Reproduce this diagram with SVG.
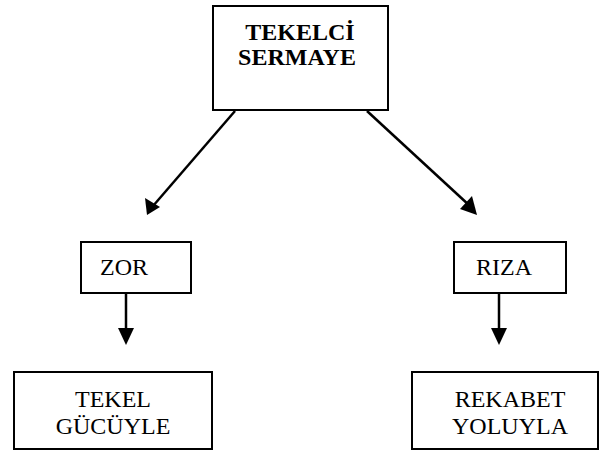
<svg xmlns="http://www.w3.org/2000/svg" width="600" height="453" viewBox="0 0 600 453">
<defs>
<marker id="ah" viewBox="0 0 10 10" refX="10" refY="5" markerWidth="8" markerHeight="8" markerUnits="userSpaceOnUse" orient="auto">
<path d="M0,0 L10,5 L0,10 Z" fill="#000"/>
</marker>
<style>
.box{fill:#fff;stroke:#000;stroke-width:2}
.t{font-family:"Liberation Serif","Times New Roman",serif;font-size:24px;fill:#000}
.b{font-weight:bold}
.c{stroke:#000;stroke-width:2.5;fill:none}
.h{fill:#000}
</style>
</defs>
<rect width="600" height="453" fill="#fff"/>
<g id="connectors">
<line class="c" x1="235" y1="111" x2="153" y2="206"/>
<polygon class="h" points="147,215 145,198 160,207"/>
<line class="c" x1="367" y1="111" x2="470" y2="206"/>
<polygon class="h" points="477,215 460,209 472,196"/>
<line class="c" x1="126" y1="293" x2="126" y2="330"/>
<polygon class="h" points="118,328 134,328 126,345"/>
<line class="c" x1="499" y1="293" x2="499" y2="330"/>
<polygon class="h" points="491,328 507,328 499,345"/>
</g>
<g id="tekelci">
<rect class="box" x="213" y="6" width="175" height="104"/>
<text class="t b" x="300" y="40" text-anchor="middle">TEKELCİ</text>
<text class="t b" x="297" y="65" text-anchor="middle">SERMAYE</text>
</g>
<g id="zor">
<rect class="box" x="81" y="242" width="110" height="51"/>
<text class="t" x="100" y="275">ZOR</text>
</g>
<g id="riza">
<rect class="box" x="454" y="242" width="112" height="51"/>
<text class="t" x="476" y="275">RIZA</text>
</g>
<g id="tekel">
<rect class="box" x="14" y="372" width="198" height="77"/>
<text class="t" x="113" y="407" text-anchor="middle">TEKEL</text>
<text class="t" x="113" y="434" text-anchor="middle">GÜCÜYLE</text>
</g>
<g id="rekabet">
<rect class="box" x="412" y="372" width="186" height="77"/>
<text class="t" x="510" y="407" text-anchor="middle">REKABET</text>
<text class="t" x="510" y="434" text-anchor="middle">YOLUYLA</text>
</g>
</svg>
